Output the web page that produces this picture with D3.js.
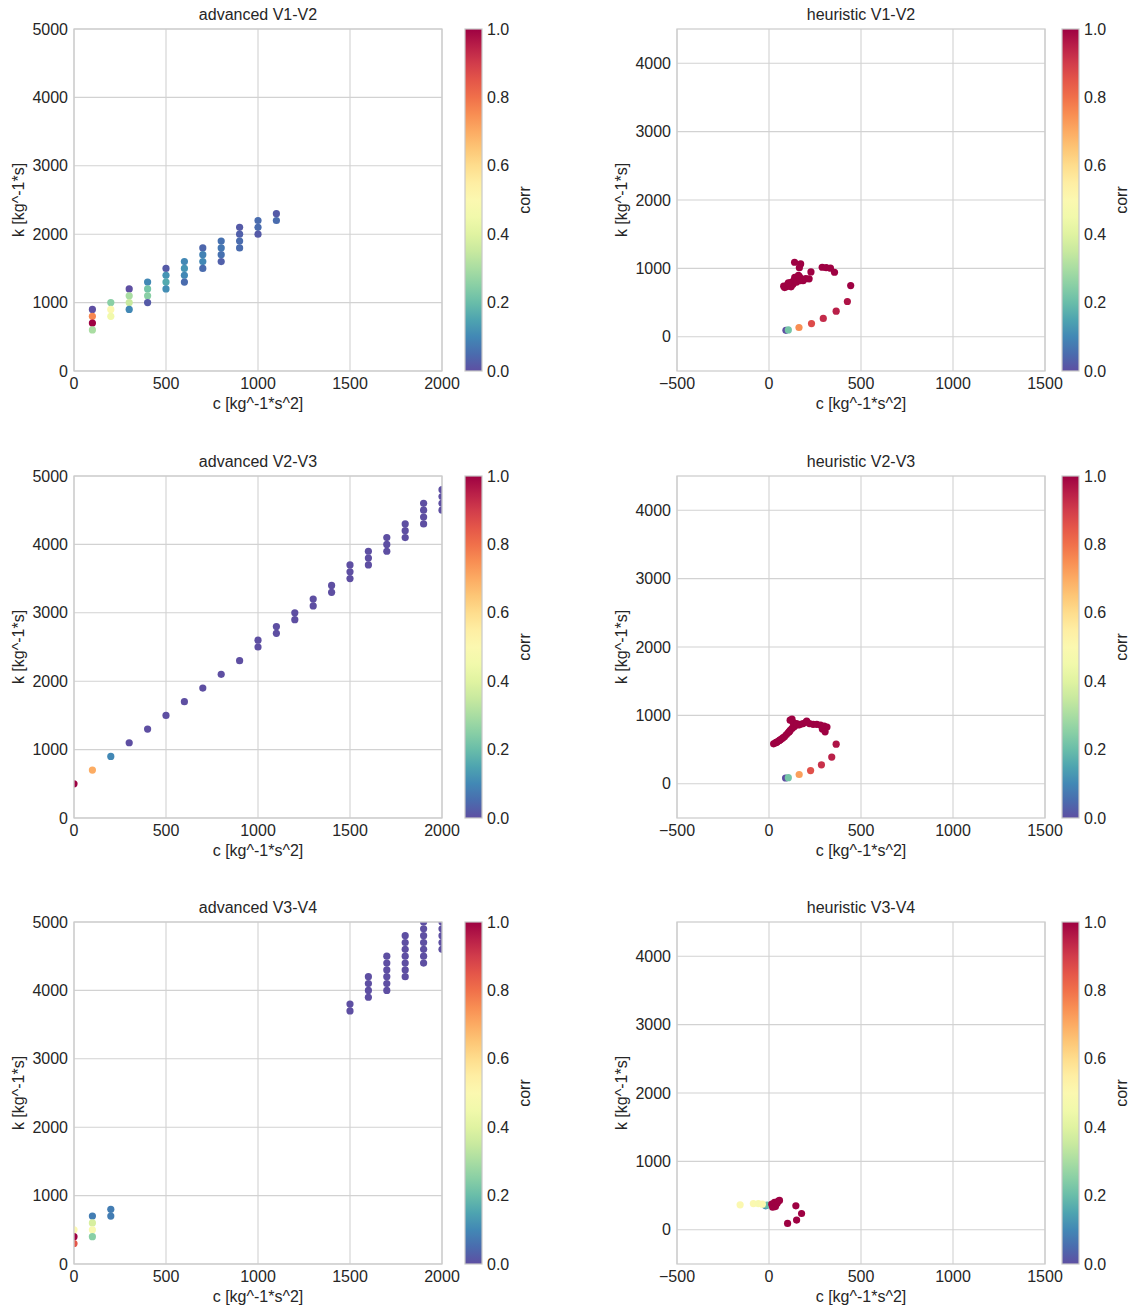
<!DOCTYPE html>
<html lang="en">
<head>
    <meta charset="UTF-8">
    <title>corr scatter</title>
    <script src="https://d3js.org/d3.v7.min.js"></script>
    <style>
        body { margin: 0; background: #fff; }
        text { font-family: "Liberation Sans", Arial, sans-serif; fill: #262626; }
    </style>
</head>
<body>
    <div id="chart"></div>

    <script>
        // data: [c, k, corr]
        var advancedV1V2 = [
            [100, 900, 0.0], [100, 800, 0.76], [100, 700, 1.0], [100, 600, 0.3],
            [200, 1000, 0.25], [200, 900, 0.5], [200, 800, 0.45],
            [300, 1200, 0.0], [300, 1100, 0.3], [300, 1000, 0.35], [300, 900, 0.1],
            [400, 1300, 0.1], [400, 1200, 0.22], [400, 1100, 0.25], [400, 1000, 0.02],
            [500, 1500, 0.02], [500, 1400, 0.12], [500, 1300, 0.16], [500, 1200, 0.11],
            [600, 1600, 0.1], [600, 1500, 0.12], [600, 1400, 0.1], [600, 1300, 0.05],
            [700, 1800, 0.04], [700, 1700, 0.09], [700, 1600, 0.1], [700, 1500, 0.05],
            [800, 1900, 0.06], [800, 1800, 0.07], [800, 1700, 0.06], [800, 1600, 0.03],
            [900, 2100, 0.02], [900, 2000, 0.03], [900, 1900, 0.05], [900, 1800, 0.05],
            [1000, 2200, 0.05], [1000, 2100, 0.05], [1000, 2000, 0.02],
            [1100, 2300, 0.02], [1100, 2200, 0.05]
        ];

        var advancedV2V3 = [
            [0, 500, 1.0], [100, 700, 0.7], [200, 900, 0.1],
            [300, 1100, 0.0], [400, 1300, 0.0], [500, 1500, 0.0], [600, 1700, 0.0],
            [700, 1900, 0.0], [800, 2100, 0.0], [900, 2300, 0.0],
            [1000, 2600, 0.0], [1000, 2500, 0.0], [1100, 2800, 0.0], [1100, 2700, 0.0],
            [1200, 3000, 0.0], [1200, 2900, 0.0], [1300, 3200, 0.0], [1300, 3100, 0.0],
            [1400, 3400, 0.0], [1400, 3300, 0.0],
            [1500, 3700, 0.0], [1500, 3600, 0.0], [1500, 3500, 0.0],
            [1600, 3900, 0.0], [1600, 3800, 0.0], [1600, 3700, 0.0],
            [1700, 4100, 0.0], [1700, 4000, 0.0], [1700, 3900, 0.0],
            [1800, 4300, 0.0], [1800, 4200, 0.0], [1800, 4100, 0.0],
            [1900, 4600, 0.0], [1900, 4500, 0.0], [1900, 4400, 0.0], [1900, 4300, 0.0],
            [2000, 4800, 0.0], [2000, 4700, 0.0], [2000, 4600, 0.0], [2000, 4500, 0.0]
        ];

        var advancedV3V4 = [
            [0, 500, 0.5], [0, 400, 1.0], [0, 300, 0.85],
            [100, 700, 0.08], [100, 600, 0.38], [100, 500, 0.48], [100, 400, 0.25],
            [200, 800, 0.08], [200, 700, 0.08],
            [1500, 3800, 0.0], [1500, 3700, 0.0],
            [1600, 4200, 0.0], [1600, 4100, 0.0], [1600, 4000, 0.0], [1600, 3900, 0.0],
            [1700, 4500, 0.0], [1700, 4400, 0.0], [1700, 4300, 0.0], [1700, 4200, 0.0],
            [1700, 4100, 0.0], [1700, 4000, 0.0],
            [1800, 4800, 0.0], [1800, 4700, 0.0], [1800, 4600, 0.0], [1800, 4500, 0.0],
            [1800, 4400, 0.0], [1800, 4300, 0.0], [1800, 4200, 0.0],
            [1900, 5000, 0.0], [1900, 4900, 0.0], [1900, 4800, 0.0], [1900, 4700, 0.0],
            [1900, 4600, 0.0], [1900, 4500, 0.0], [1900, 4400, 0.0],
            [2000, 5000, 0.0], [2000, 4900, 0.0], [2000, 4800, 0.0], [2000, 4700, 0.0],
            [2000, 4600, 0.0]
        ];

        var heuristicV1V2 = [
            [92, 95, 0.0], [105, 100, 0.22], [163, 136, 0.75], [231, 194, 0.87],
            [295, 268, 0.93], [365, 375, 0.95], [426, 516, 0.97], [444, 749, 1.0],
            [85, 720, 1.0], [95, 735, 1.0], [80, 740, 1.0], [100, 760, 1.0],
            [110, 745, 1.0], [120, 730, 1.0], [115, 790, 1.0], [130, 770, 1.0],
            [125, 800, 1.0], [135, 820, 1.0], [145, 830, 1.0], [140, 870, 1.0],
            [155, 860, 1.0], [165, 880, 1.0], [175, 850, 1.0], [185, 820, 1.0],
            [150, 800, 1.0], [105, 790, 1.0], [170, 820, 1.0],
            [200, 850, 1.0], [218, 847, 1.0], [160, 900, 1.0], [228, 949, 1.0],
            [139, 1090, 1.0], [172, 1066, 1.0], [165, 1010, 1.0],
            [289, 1017, 1.0], [311, 1010, 1.0], [334, 1003, 1.0], [356, 944, 1.0]
        ];

        var heuristicV2V3 = [
            [90, 85, 0.0], [105, 90, 0.22], [164, 136, 0.72], [226, 194, 0.86],
            [285, 277, 0.92], [341, 390, 0.95], [365, 580, 0.97],
            [25, 585, 1.0], [35, 600, 1.0], [40, 605, 1.0], [45, 615, 1.0],
            [55, 630, 1.0], [60, 640, 1.0], [65, 650, 1.0], [75, 670, 1.0],
            [85, 690, 1.0], [95, 720, 1.0], [105, 750, 1.0], [110, 760, 1.0],
            [115, 780, 1.0], [125, 810, 1.0], [135, 830, 1.0], [140, 850, 1.0],
            [160, 860, 1.0], [115, 930, 1.0], [125, 945, 1.0], [130, 900, 1.0],
            [150, 880, 1.0], [170, 870, 1.0], [185, 880, 1.0], [200, 900, 1.0],
            [205, 915, 1.0], [220, 880, 1.0], [240, 870, 1.0], [260, 870, 1.0],
            [280, 860, 1.0], [300, 845, 1.0], [315, 830, 1.0], [290, 800, 1.0],
            [305, 760, 1.0]
        ];

        var heuristicV3V4 = [
            [-18, 350, 0.1], [-10, 360, 0.2],
            [-157, 365, 0.5], [-85, 384, 0.5], [-58, 384, 0.48], [-36, 375, 0.5],
            [15, 375, 1.0], [25, 360, 1.0], [35, 340, 1.0], [20, 330, 1.0],
            [30, 400, 1.0], [40, 380, 1.0], [45, 390, 1.0], [50, 420, 1.0],
            [57, 430, 1.0], [146, 350, 1.0], [177, 238, 1.0], [150, 142, 1.0],
            [101, 93, 1.0]
        ];

        var panelTitles = ["advanced V1-V2", "heuristic V1-V2", "advanced V2-V3",
                           "heuristic V2-V3", "advanced V3-V4", "heuristic V3-V4"];
        var panelData = [advancedV1V2, heuristicV1V2, advancedV2V3,
                         heuristicV2V3, advancedV3V4, heuristicV3V4];

        var advXTicks = [0, 500, 1000, 1500, 2000];
        var advYTicks = [0, 1000, 2000, 3000, 4000, 5000];
        var heuXTicks = [-500, 0, 500, 1000, 1500];
        var heuYTicks = [0, 1000, 2000, 3000, 4000];
        var cbarTicks = [0.0, 0.2, 0.4, 0.6, 0.8, 1.0];

        var W = 1138, H = 1310;
        var plotW = 368, plotH = 342;
        var colLeft = [74, 677];
        var cbarLeft = [465, 1062];
        var rowTop = [29, 476, 922];
        var fs = "16px";

        var svg = d3.select("#chart").append("svg")
            .attr("width", W).attr("height", H);

        var defs = svg.append("defs");
        var grad = defs.append("linearGradient")
            .attr("id", "spectral")
            .attr("x1", 0).attr("y1", 1).attr("x2", 0).attr("y2", 0);
        d3.range(0, 1.0001, 0.05).forEach(function(t) {
            grad.append("stop")
                .attr("offset", t)
                .attr("stop-color", d3.interpolateSpectral(1 - t));
        });

        function color(v) { return d3.interpolateSpectral(1 - v); }
        function fmt(v) { return v < 0 ? "\u2212" + Math.abs(v) : String(v); }

        panelData.forEach(function(data, i) {
            var col = i % 2, row = Math.floor(i / 2);
            var heur = col === 1;
            var left = colLeft[col], top = rowTop[row];

            var x = d3.scaleLinear()
                .domain(heur ? [-500, 1500] : [0, 2000])
                .range([0, plotW]);
            var y = d3.scaleLinear()
                .domain(heur ? [-500, 4500] : [0, 5000])
                .range([plotH, 0]);
            var xt = heur ? heuXTicks : advXTicks;
            var yt = heur ? heuYTicks : advYTicks;

            var g = svg.append("g").attr("transform", "translate(" + left + "," + top + ")");

            // grid
            g.append("g").selectAll("line").data(xt).enter().append("line")
                .attr("x1", function(d) { return x(d); }).attr("x2", function(d) { return x(d); })
                .attr("y1", 0).attr("y2", plotH)
                .attr("stroke", "#d2d2d2").attr("stroke-width", 1.1);
            g.append("g").selectAll("line").data(yt).enter().append("line")
                .attr("y1", function(d) { return y(d); }).attr("y2", function(d) { return y(d); })
                .attr("x1", 0).attr("x2", plotW)
                .attr("stroke", "#d2d2d2").attr("stroke-width", 1.1);

            var clipId = "clip" + i;
            defs.append("clipPath").attr("id", clipId)
                .append("rect").attr("width", plotW).attr("height", plotH);

            g.append("g").attr("clip-path", "url(#" + clipId + ")")
                .selectAll("circle").data(data).enter().append("circle")
                .attr("cx", function(d) { return x(d[0]); })
                .attr("cy", function(d) { return y(d[1]); })
                .attr("r", 3.6)
                .attr("fill", function(d) { return color(d[2]); });

            // frame
            g.append("rect").attr("width", plotW).attr("height", plotH)
                .attr("fill", "none").attr("stroke", "#cccccc").attr("stroke-width", 1.25);

            // tick labels
            g.append("g").selectAll("text").data(xt).enter().append("text")
                .attr("x", function(d) { return x(d); })
                .attr("y", plotH + 18)
                .attr("text-anchor", "middle")
                .style("font-size", fs)
                .text(fmt);
            g.append("g").selectAll("text").data(yt).enter().append("text")
                .attr("x", -6)
                .attr("y", function(d) { return y(d) + 5.5; })
                .attr("text-anchor", "end")
                .style("font-size", fs)
                .text(fmt);

            g.append("text")
                .attr("x", plotW / 2).attr("y", -9)
                .attr("text-anchor", "middle")
                .style("font-size", fs)
                .text(panelTitles[i]);

            g.append("text")
                .attr("x", plotW / 2).attr("y", plotH + 38)
                .attr("text-anchor", "middle")
                .style("font-size", fs)
                .text("c [kg^-1*s^2]");

            g.append("text")
                .attr("transform", "translate(-50," + (plotH / 2) + ") rotate(-90)")
                .attr("text-anchor", "middle")
                .style("font-size", fs)
                .text("k [kg^-1*s]");

            // colorbar
            var cb = svg.append("g").attr("transform", "translate(" + cbarLeft[col] + "," + top + ")");
            var cy = d3.scaleLinear().domain([0, 1]).range([plotH, 0]);
            cb.append("rect").attr("width", 17).attr("height", plotH)
                .attr("fill", "url(#spectral)")
                .attr("stroke", "#c8c8c8").attr("stroke-width", 1.2);
            cb.selectAll("text.tk").data(cbarTicks).enter().append("text")
                .attr("class", "tk")
                .attr("x", 22)
                .attr("y", function(d) { return cy(d) + 5.5; })
                .style("font-size", fs)
                .text(function(d) { return d.toFixed(1); });
            cb.append("text")
                .attr("transform", "translate(65," + (plotH / 2) + ") rotate(-90)")
                .attr("text-anchor", "middle")
                .style("font-size", fs)
                .text("corr");
        });
    </script>
</body>
</html>
